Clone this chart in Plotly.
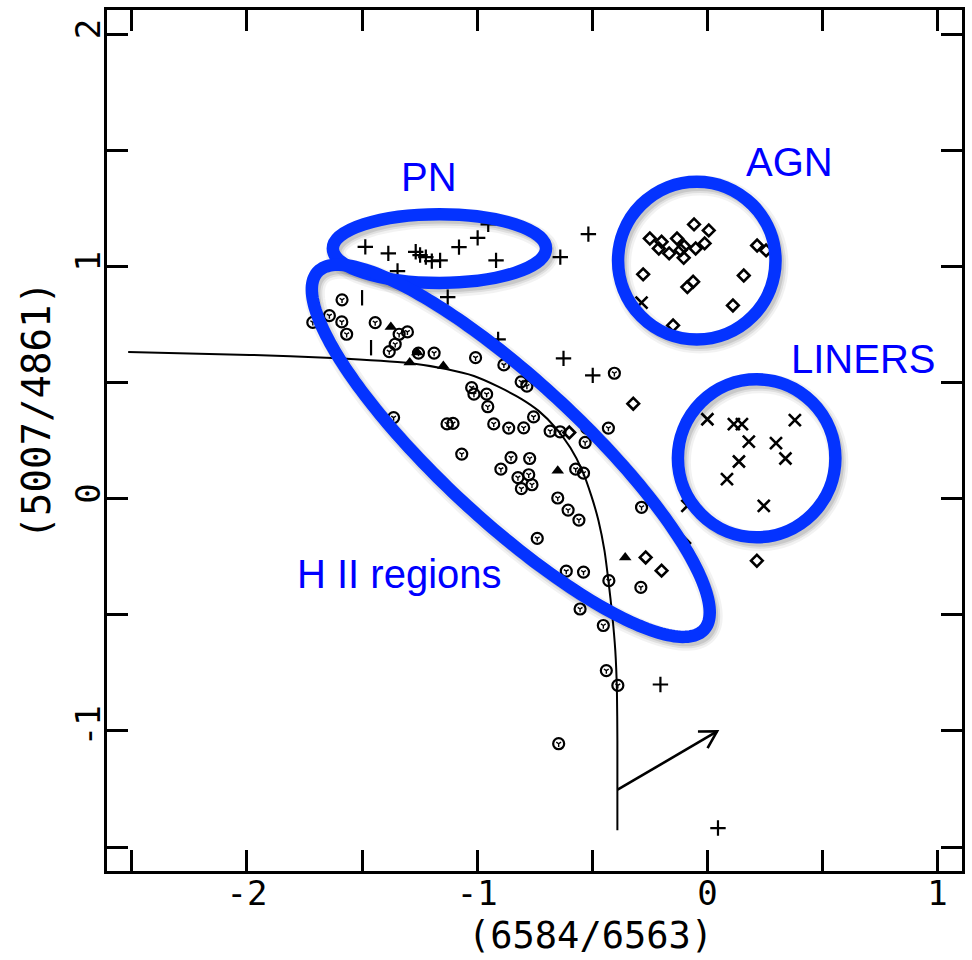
import numpy as np
import plotly.graph_objects as go

# log([N II] 6584 / H-alpha) vs log([O III] 5007 / H-beta)
hii_x = [-1.587, -1.642, -1.714, -1.588, -1.567, -1.443, -1.339, -1.303, -1.356, -1.382,
         -1.255, -1.187, -1.007, -1.024, -1.014, -0.959, -0.954, -1.363, -1.131, -1.105,
         -0.928, -0.863, -0.798, -0.755, -0.683, -0.640, -0.524, -0.531, -0.430, -0.404,
         -0.884, -0.809, -0.784, -1.067, -0.853, -0.772, -0.897, -0.823, -0.776, -0.808,
         -0.762, -0.572, -0.538, -0.650, -0.605, -0.558, -0.739, -0.613, -0.538, -0.428,
         -0.286, -0.289, -0.553, -0.452, -0.439, -0.389, -0.646]
hii_y = [0.856, 0.788, 0.759, 0.761, 0.708, 0.758, 0.708, 0.718, 0.665, 0.633,
         0.627, 0.627, 0.607, 0.478, 0.450, 0.450, 0.396, 0.349, 0.322, 0.324,
         0.322, 0.304, 0.305, 0.352, 0.291, 0.288, 0.304, 0.242, 0.304, 0.540,
         0.576, 0.503, 0.485, 0.192, 0.177, 0.173, 0.127, 0.091, 0.103, 0.043,
         0.060, 0.127, 0.110, 0.003, -0.049, -0.092, -0.171, -0.312, -0.316, -0.353,
         -0.037, -0.382, -0.475, -0.546, -0.740, -0.804, -1.055]

pn_x = [-1.486, -1.386, -1.267, -1.248, -1.223, -1.197, -1.161, -1.346, -1.079, -0.998,
        -0.952, -0.918, -0.639, -0.517, -1.128, -0.909, -0.625, -0.498, -0.204, 0.046]
pn_y = [1.084, 1.056, 1.063, 1.049, 1.040, 1.023, 1.026, 0.980, 1.083, 1.123,
        1.181, 1.026, 1.040, 1.139, 0.868, 0.686, 0.604, 0.531, -0.800, -1.418]

bar_x = [-1.500, -1.461]
bar_y = [0.865, 0.650]

tri_x = [-1.375, -1.293, -1.147, -1.260, -0.650, -0.357]
tri_y = [0.739, 0.586, 0.571, 0.629, 0.120, -0.253]

agn_x = [-0.058, 0.006, -0.250, -0.132, -0.199, -0.012, -0.211, -0.051, -0.166, -0.116,
         -0.103, -0.101, 0.216, 0.255, -0.279, 0.158, -0.062, -0.087, 0.111, -0.149,
         -0.322, -0.600, -0.268, -0.199, -0.101, 0.215]
agn_y = [1.181, 1.155, 1.120, 1.120, 1.106, 1.099, 1.077, 1.077, 1.056, 1.070,
         1.037, 1.087, 1.090, 1.069, 0.966, 0.961, 0.934, 0.911, 0.832, 0.746,
         0.409, 0.285, -0.253, -0.310, -0.191, -0.267]

liner_x = [0.000, 0.115, 0.150, 0.380, 0.180, 0.298, 0.339, 0.137, 0.085, 0.245, -0.087, -0.286]
liner_y = [0.342, 0.321, 0.321, 0.338, 0.246, 0.239, 0.173, 0.160, 0.084, -0.031, -0.031, 0.844]

# H II region model sequence
model_x = [-2.516, -1.988, -1.629, -1.296, -1.135, -1.014, -0.906, -0.807, -0.733, -0.659,
           -0.595, -0.543, -0.504, -0.473, -0.447, -0.430, -0.413, -0.400, -0.393, -0.391, -0.391]
model_y = [0.632, 0.619, 0.606, 0.584, 0.558, 0.528, 0.481, 0.429, 0.378, 0.305,
           0.219, 0.120, 0.012, -0.095, -0.224, -0.353, -0.503, -0.654, -0.826, -1.041, -1.428]

# reddening vector (tail, tip)
redden_x = [-0.390, 0.042]
redden_y = [-1.253, -1.002]

x_ticks = [-2.5, -2, -1.5, -1, -0.5, 0, 0.5, 1]
x_ticktext = ["", "-2", "", "-1", "", "0", "", "1"]
y_ticks = [-1.5, -1, -0.5, 0, 0.5, 1, 1.5, 2]
y_ticktext = ["", "-1", "", "0", "", "1", "", "2"]

BLUE_RING = "#0433ff"
BLUE_TEXT = "#0000ff"
AX_FONT = "DejaVu Sans Mono, monospace"

fig = go.Figure()

fig.add_trace(go.Scatter(x=model_x, y=model_y, mode="lines",
                         line=dict(color="black", width=2, shape="spline", smoothing=0.6),
                         hoverinfo="skip", showlegend=False))

# reddening arrow with an open head
tx, ty = redden_x[1], redden_y[1]
ang = np.arctan2(redden_y[1] - redden_y[0], redden_x[1] - redden_x[0])
hl = 0.083
arms = [ang + np.pi - np.deg2rad(30), ang + np.pi + np.deg2rad(30)]
ax_x = [redden_x[0], tx, None, tx + hl * np.cos(arms[0]), tx, tx + hl * np.cos(arms[1])]
ax_y = [redden_y[0], ty, None, ty + hl * np.sin(arms[0]), ty, ty + hl * np.sin(arms[1])]
fig.add_trace(go.Scatter(x=ax_x, y=ax_y, mode="lines", line=dict(color="black", width=2.6),
                         hoverinfo="skip", showlegend=False))

# H II regions: open circles with a small inner mark
fig.add_trace(go.Scatter(x=hii_x, y=hii_y, mode="markers",
                         marker=dict(symbol="circle-open", size=11, color="black", line=dict(width=2.2)),
                         showlegend=False))
fig.add_trace(go.Scatter(x=hii_x, y=hii_y, mode="markers",
                         marker=dict(symbol="y-down-open", size=4, color="black", line=dict(width=1.4)),
                         hoverinfo="skip", showlegend=False))
fig.add_trace(go.Scatter(x=pn_x, y=pn_y, mode="markers",
                         marker=dict(symbol="cross-thin", size=11, color="black", line=dict(width=2.2, color="black")),
                         showlegend=False))
fig.add_trace(go.Scatter(x=bar_x, y=bar_y, mode="markers",
                         marker=dict(symbol="line-ns", size=11, color="black", line=dict(width=2.2, color="black")),
                         showlegend=False))
fig.add_trace(go.Scatter(x=tri_x, y=tri_y, mode="markers",
                         marker=dict(symbol="triangle-up", size=11, color="black"),
                         showlegend=False))
fig.add_trace(go.Scatter(x=agn_x, y=agn_y, mode="markers",
                         marker=dict(symbol="diamond-open", size=9, color="black", line=dict(width=2.6)),
                         showlegend=False))
fig.add_trace(go.Scatter(x=liner_x, y=liner_y, mode="markers",
                         marker=dict(symbol="x-thin", size=12, color="black", line=dict(width=2.6, color="black")),
                         showlegend=False))

# group outlines, each with a soft drop shadow
sdx, sdy = 0.013, -0.017


def ring_shape(x0, x1, y0, y1, color, width):
    return dict(type="circle", xref="x", yref="y", x0=x0, x1=x1, y0=y0, y1=y1,
                line=dict(color=color, width=width), fillcolor="rgba(0,0,0,0)", layer="above")


def ellipse_path(cx, cy, a, b, deg, n=240):
    t = np.linspace(0, 2 * np.pi, n)
    r = np.deg2rad(deg)
    xs = cx + a * np.cos(t) * np.cos(r) - b * np.sin(t) * np.sin(r)
    ys = cy + a * np.cos(t) * np.sin(r) + b * np.sin(t) * np.cos(r)
    return "M " + " L ".join(f"{x:.4f},{y:.4f}" for x, y in zip(xs, ys)) + " Z"


rings = [
    (-1.164, 1.077, 0.463, 0.148),   # PN
    (-0.046, 1.025, 0.342, 0.340),   # AGN
    (0.214, 0.174, 0.342, 0.340),    # LINERS
]
hii_ring = (-0.854, 0.206, 1.139, 0.302, -42.5)

shapes = []
for w, c in [(20, "rgba(0,0,0,0.05)"), (15, "rgba(0,0,0,0.08)"), (11, "rgba(0,0,0,0.10)")]:
    for cx, cy, rx, ry in rings:
        shapes.append(ring_shape(cx - rx + sdx, cx + rx + sdx, cy - ry + sdy, cy + ry + sdy, c, w))
    cx, cy, a, b, d = hii_ring
    shapes.append(dict(type="path", xref="x", yref="y", path=ellipse_path(cx + sdx, cy + sdy, a, b, d),
                       line=dict(color=c, width=w), layer="above"))
for cx, cy, rx, ry in rings:
    shapes.append(ring_shape(cx - rx, cx + rx, cy - ry, cy + ry, BLUE_RING, 12.5))
cx, cy, a, b, d = hii_ring
shapes.append(dict(type="path", xref="x", yref="y", path=ellipse_path(cx, cy, a, b, d),
                   line=dict(color=BLUE_RING, width=12.5), layer="above"))

labels = [("PN", -1.211, 1.385), ("AGN", 0.355, 1.448), ("LINERS", 0.678, 0.601), ("H II regions", -1.337, -0.323)]
annotations = [dict(x=x, y=y, xref="x", yref="y", text=t, showarrow=False,
                    font=dict(family="Liberation Sans, Arial, sans-serif", size=40, color=BLUE_TEXT))
               for t, x, y in labels]
annotations.append(dict(x=0.566, y=-0.0745, xref="paper", yref="paper", text="(6584/6563)", showarrow=False,
                        xanchor="center", yanchor="middle",
                        font=dict(family=AX_FONT, size=37, color="black")))
annotations.append(dict(x=-0.083, y=0.535, xref="paper", yref="paper", text="(5007/4861)", showarrow=False,
                        textangle=-90, xanchor="center", yanchor="middle",
                        font=dict(family=AX_FONT, size=39, color="black")))

axis_common = dict(showgrid=False, zeroline=False, showline=True, linecolor="black", linewidth=3,
                   mirror="ticks", ticks="inside", ticklen=21, tickwidth=3, tickcolor="black",
                   tickmode="array", ticklabelstandoff=-10,
                   tickfont=dict(family=AX_FONT, size=34, color="black"))

fig.update_layout(
    width=972, height=960,
    margin=dict(l=107, r=7, t=9, b=89),
    paper_bgcolor="white", plot_bgcolor="white",
    xaxis=dict(range=[-2.608, 1.106], tickvals=x_ticks, ticktext=x_ticktext, **axis_common),
    yaxis=dict(range=[-1.603, 2.104], tickvals=y_ticks, ticktext=y_ticktext, tickangle=-90, **axis_common),
    shapes=shapes,
    annotations=annotations,
)

fig.write_html("out.html")
